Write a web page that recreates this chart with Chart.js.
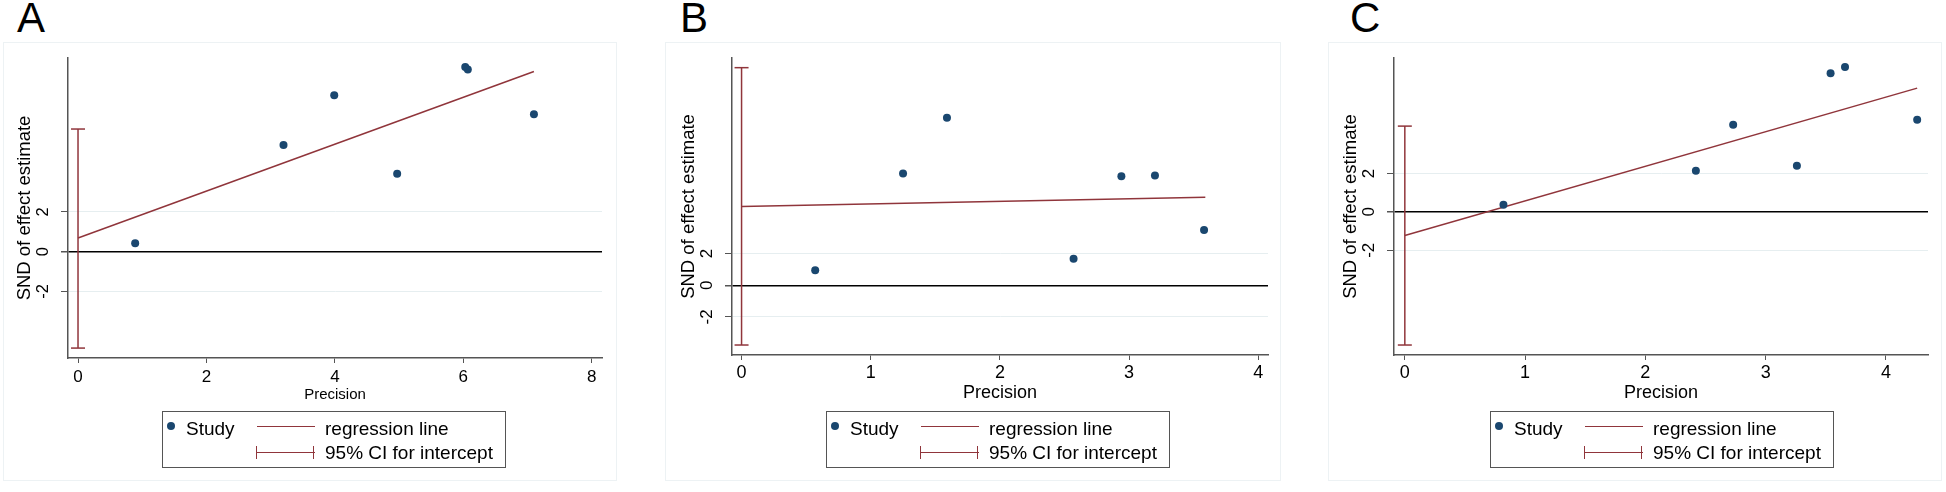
<!DOCTYPE html>
<html>
<head>
<meta charset="utf-8">
<script src="https://cdn.jsdelivr.net/npm/chart.js@4.4.1/dist/chart.umd.min.js"></script>
<style>
  body { margin: 0; background: #fff; width: 1946px; height: 492px; overflow: hidden; position: relative;
         font-family: "Liberation Sans", Arial, Helvetica, sans-serif; color: #000; }
  .panel { position: absolute; top: 42px; height: 439px; border: 1px solid #edf2f4; box-sizing: border-box; }
  .letter { position: absolute; top: -3px; font-size: 42px; line-height: 42px; }
  canvas { position: absolute; top: 42px; }
  .legend { position: absolute; top: 411px; width: 344px; height: 57px; border: 1.5px solid #555; box-sizing: border-box; font-size: 19px; }
  .legend .t { position: absolute; line-height: 20px; white-space: nowrap; }
  .legend .dot { position: absolute; left: 4px; top: 10px; width: 8px; height: 8px; border-radius: 50%; background: #1a476f; }
  .legend .ln { position: absolute; left: 94px; width: 58px; height: 0; border-top: 1.5px solid #90353b; }
  .legend .cap { position: absolute; top: -7px; width: 0; height: 13px; border-left: 1.5px solid #90353b; }
</style>
</head>
<body>
<div class="panel" style="left:3px;width:614px"></div>
<div class="panel" style="left:665px;width:616px"></div>
<div class="panel" style="left:1328px;width:614px"></div>
<div class="letter" style="left:17px">A</div>
<div class="letter" style="left:680px">B</div>
<div class="letter" style="left:1350px">C</div>
<canvas id="chartA" width="614" height="438" style="left:3px"></canvas>
<canvas id="chartB" width="614" height="438" style="left:667px"></canvas>
<canvas id="chartC" width="614" height="438" style="left:1329px"></canvas>
<div id="legends"></div>
<script>
'use strict';

// 各パネルのデータ (Precision, SND)
const precisionA = [0.89, 3.20, 3.99, 4.97, 6.03, 6.07, 7.10];
const sndA = [0.42, 5.38, 7.88, 3.92, 9.31, 9.18, 6.92];
const regXA = [0, 7.10];
const regYA = [0.69, 9.08];
const ciA = [-4.86, 6.18];

const precisionB = [0.57, 1.25, 1.59, 2.57, 2.94, 3.20, 3.58];
const sndB = [0.95, 7.05, 10.57, 1.68, 6.88, 6.93, 3.49];
const regXB = [0, 3.59];
const regYB = [4.97, 5.56];
const ciB = [-3.77, 13.73];

const precisionC = [0.82, 2.42, 2.73, 3.26, 3.54, 3.66, 4.26];
const sndC = [0.37, 2.14, 4.54, 2.40, 7.23, 7.55, 4.80];
const regXC = [0, 4.26];
const regYC = [-1.23, 6.45];
const ciC = [-6.94, 4.47];

// 目盛り
const xTicksA = [0, 2, 4, 6, 8];
const xTicksBC = [0, 1, 2, 3, 4];
const yTicks = [-2, 0, 2];

const NAVY = '#1a476f';
const MAROON = '#90353b';
const FONT = '"Liberation Sans", Arial, Helvetica, sans-serif';

// y軸の目盛りラベルを縦向きに描く
const yTickLabels = {
  id: 'yTickLabels',
  afterDraw(chart, args, opts) {
    const ctx = chart.ctx;
    const y = chart.scales.y;
    ctx.save();
    ctx.fillStyle = '#000';
    ctx.font = opts.size + 'px ' + FONT;
    ctx.textAlign = 'center';
    ctx.textBaseline = 'middle';
    opts.values.forEach((v) => {
      ctx.save();
      ctx.translate(chart.chartArea.left - 25, y.getPixelForValue(v));
      ctx.rotate(-Math.PI / 2);
      ctx.fillText(String(v), 0, 0);
      ctx.restore();
    });
    ctx.restore();
  }
};

const makeChart = (id, p) => {
  new Chart(document.getElementById(id), {
    type: 'scatter',
    data: {
      datasets: [
        {
          label: 'Study',
          data: p.precision.map((x, i) => ({x: x, y: p.snd[i]})),
          backgroundColor: NAVY,
          borderColor: NAVY,
          pointRadius: 4,
          pointBorderWidth: 0,
          order: 0
        },
        {
          label: 'regression line',
          data: p.regX.map((x, i) => ({x: x, y: p.regY[i]})),
          showLine: true,
          borderColor: MAROON,
          borderWidth: 1.5,
          pointRadius: 0,
          order: 1
        },
        {
          label: '95% CI for intercept',
          data: p.ci.map((v) => ({x: 0, y: v})),
          showLine: true,
          borderColor: MAROON,
          borderWidth: 1.5,
          pointStyle: 'line',
          pointRadius: 7,
          pointBorderWidth: 1.5,
          pointBorderColor: MAROON,
          order: 2
        }
      ]
    },
    options: {
      responsive: false,
      animation: false,
      devicePixelRatio: 1,
      layout: {padding: {left: 0, top: 16, right: p.padRight, bottom: p.padBottom}},
      plugins: {
        legend: {display: false},
        tooltip: {enabled: false},
        yTickLabels: {values: yTicks, size: p.yTickSize}
      },
      scales: {
        x: {
          type: 'linear',
          position: 'bottom',
          min: p.xMin,
          max: p.xMax,
          afterBuildTicks: (s) => { s.ticks = p.xTicks.map((v) => ({value: v})); },
          afterFit: (s) => { s.height = 50; },
          grid: {display: true, drawOnChartArea: false, drawTicks: true, tickLength: 5, color: '#555', tickColor: '#555'},
          border: {display: true, color: '#555', width: 1.5},
          ticks: {font: {size: p.tickSize, family: FONT}, color: '#000', padding: p.tickPad, maxRotation: 0, autoSkip: false},
          title: {display: true, text: 'Precision', color: '#000', font: {size: p.xTitleSize, family: FONT}, padding: {top: 0, bottom: p.xTitlePad}}
        },
        y: {
          type: 'linear',
          min: p.yMin,
          max: p.yMax,
          afterBuildTicks: (s) => { s.ticks = yTicks.map((v) => ({value: v})); },
          afterFit: (s) => { s.width = 65; },
          grid: {
            color: (c) => (c.tick && c.tick.value === 0 ? '#000' : '#e6eef0'),
            lineWidth: (c) => (c.tick && c.tick.value === 0 ? 1.5 : 1),
            tickColor: '#555',
            tickLength: 7,
            drawTicks: true
          },
          border: {display: true, color: '#555', width: 1.5},
          ticks: {display: false},
          title: {display: true, text: 'SND of effect estimate', color: '#000', font: {size: 18.5, family: FONT}, padding: {top: 11, bottom: 0}}
        }
      }
    },
    plugins: [yTickLabels]
  });
};

makeChart('chartA', {
  precision: precisionA, snd: sndA, regX: regXA, regY: regYA, ci: ciA, xTicks: xTicksA,
  xMin: -0.156, xMax: 8.16, yMin: -5.36, yMax: 9.76,
  padRight: 15, padBottom: 72, tickSize: 17, yTickSize: 16.5, tickPad: 4, xTitleSize: 15, xTitlePad: 4
});
makeChart('chartB', {
  precision: precisionB, snd: sndB, regX: regXB, regY: regYB, ci: ciB, xTicks: xTicksBC,
  xMin: -0.074, xMax: 4.075, yMin: -4.40, yMax: 14.34,
  padRight: 13, padBottom: 75, tickSize: 18, yTickSize: 17, tickPad: 2, xTitleSize: 18, xTitlePad: 1
});
makeChart('chartC', {
  precision: precisionC, snd: sndC, regX: regXC, regY: regYC, ci: ciC, xTicks: xTicksBC,
  xMin: -0.09, xMax: 4.35, yMin: -7.46, yMax: 8.02,
  padRight: 15, padBottom: 75, tickSize: 18, yTickSize: 17, tickPad: 2, xTitleSize: 18, xTitlePad: 1
});

// 凡例
const legendLefts = [162, 826, 1490];
const legendHost = document.getElementById('legends');
legendLefts.forEach((left) => {
  const box = document.createElement('div');
  box.className = 'legend';
  box.style.left = left + 'px';
  box.innerHTML =
    '<div class="dot"></div>' +
    '<div class="t" style="left:23px;top:7px">Study</div>' +
    '<div class="ln" style="top:14px"></div>' +
    '<div class="t" style="left:162px;top:7px">regression line</div>' +
    '<div class="ln" style="top:40px"><div class="cap" style="left:-1px"></div><div class="cap" style="left:56px"></div></div>' +
    '<div class="t" style="left:162px;top:31px">95% CI for intercept</div>';
  legendHost.appendChild(box);
});
</script>
</body>
</html>
